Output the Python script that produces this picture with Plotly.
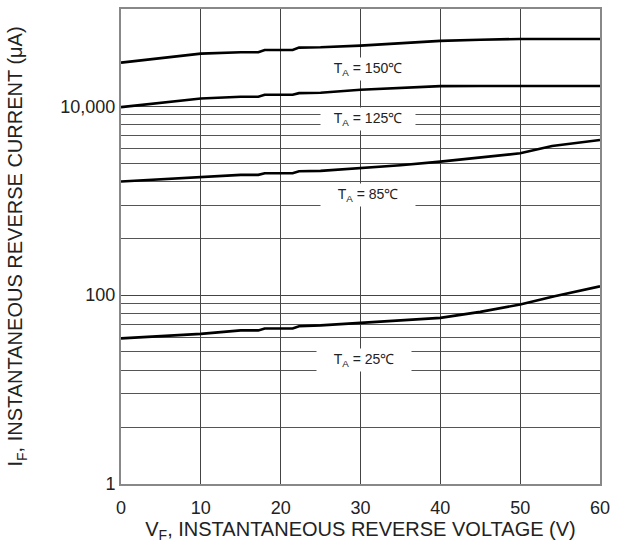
import math
import plotly.graph_objects as go

# Reverse voltage (V) sample points per curve
V_150 = [0, 10, 15, 17.2, 18, 21.5, 22.3, 25, 30, 35, 40, 45, 50, 60]
I_150 = [29000, 36100, 37300, 37300, 39500, 39500, 41800, 42200, 43900, 46800, 49200, 50600, 51600, 51600]

V_125 = [0, 10, 15, 17.2, 18, 21.5, 22.3, 25, 30, 35, 40, 45, 50, 60]
I_125 = [9800, 12090, 12600, 12600, 13220, 13220, 13780, 13890, 14940, 15680, 16350, 16400, 16420, 16420]

V_85 = [0, 10, 15, 17.2, 18, 21.5, 22.3, 25, 30, 35, 40, 45, 50, 54, 60]
I_85 = [1595, 1771, 1877, 1877, 1951, 1951, 2049, 2069, 2204, 2371, 2594, 2858, 3175, 3800, 4400]

V_25 = [0, 10, 15, 17.2, 18, 21.5, 22.3, 25, 30, 35, 40, 45, 50, 54.3, 60]
I_25 = [34.8, 38.9, 42.3, 42.3, 44.4, 44.4, 46.9, 47.8, 50.9, 53.9, 57.4, 66.5, 79.6, 97.4, 124]

curves = [(V_150, I_150), (V_125, I_125), (V_85, I_85), (V_25, I_25)]

# Curve labels
label_text = ["T<sub>A</sub> = 150℃", "T<sub>A</sub> = 125℃", "T<sub>A</sub> = 85℃", "T<sub>A</sub> = 25℃"]
label_x = [31, 31, 31, 30.5]
label_y = [25070, 7325, 1163, 20.4]

# Axis ticks
x_ticks = [0, 10, 20, 30, 40, 50, 60]
y_major = [1, 100, 10000]
y_major_text = ["1", "100", "10,000"]
y_minor_grid = [4, 9, 16, 25, 36, 49, 64, 81, 400, 900, 1600, 2500, 3600, 4900, 6400, 8100]

FONT = "Arial, Liberation Sans, sans-serif"

fig = go.Figure()
for vx, iy in curves:
    fig.add_trace(go.Scatter(x=vx, y=iy, mode="lines",
                             line=dict(color="black", width=2.6),
                             showlegend=False, hoverinfo="skip"))

for t, lx, ly in zip(label_text, label_x, label_y):
    # annotations on a log axis take log10 positions
    fig.add_annotation(x=lx, y=math.log10(ly), yref="y", xref="x", text=t, showarrow=False,
                       font=dict(family=FONT, size=14, color="#222"),
                       bgcolor="white", width=92, height=20)

fig.update_layout(
    width=618, height=546,
    margin=dict(l=121, r=18, t=7, b=62),
    paper_bgcolor="white", plot_bgcolor="white",
    font=dict(family=FONT, color="#222"),
)

fig.update_xaxes(
    range=[0, 60], tickvals=x_ticks, ticks="",
    tickfont=dict(size=18, family=FONT, color="#222"),
    ticklabelstandoff=6,
    showgrid=True, gridcolor="#444", gridwidth=1,
    showline=True, linecolor="#888", linewidth=2, mirror=True,
    zeroline=False,
    title=dict(text="V<sub>F</sub>, INSTANTANEOUS REVERSE VOLTAGE (V)",
               font=dict(size=20, family=FONT, color="#222"), standoff=4),
)

fig.update_yaxes(
    type="log", range=[0, 5.03],
    tickvals=y_major, ticktext=y_major_text, ticks="",
    tickfont=dict(size=18, family=FONT, color="#222"),
    showgrid=True, gridcolor="#444", gridwidth=1,
    minor=dict(tickvals=y_minor_grid, showgrid=True, gridcolor="#555", gridwidth=1, ticks=""),
    showline=True, linecolor="#888", linewidth=2, mirror=True,
    zeroline=False,
    title=dict(text="I<sub>F</sub>, INSTANTANEOUS REVERSE CURRENT (μA)",
               font=dict(size=20, family=FONT, color="#222"), standoff=32),
)

fig.write_html("out.html")
